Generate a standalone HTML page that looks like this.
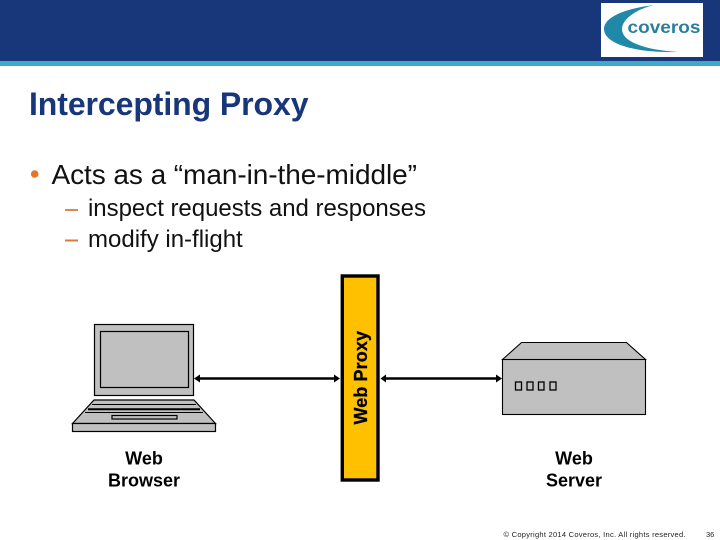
<!DOCTYPE html>
<html>
<head>
<meta charset="utf-8">
<style>
html,body{margin:0;padding:0;background:#fff}
svg{display:block}
text{font-family:"Liberation Sans",sans-serif}
</style>
</head>
<body>
<svg width="720" height="540" viewBox="0 0 720 540" xmlns="http://www.w3.org/2000/svg">
<rect width="720" height="540" fill="#fff"/>
<rect width="720" height="61" fill="#17377a"/>
<rect y="61" width="720" height="5" fill="#3fa9c6"/>

<rect x="601" y="3" width="102" height="54" fill="#fff"/>
<path d="M654 5 C622 9 604 18 604 29 C604 43 632 53 678 52 C648 50 622 43 622 29 C622 20 634 10 654 5 Z" fill="#2089a8"/>
<text x="627.500" y="33" font-size="17.500" font-weight="bold" fill="#2a7f9f" textLength="73" lengthAdjust="spacingAndGlyphs">coveros</text>

<text x="29" y="115" font-size="32" font-weight="bold" fill="#17377a" textLength="279.500" lengthAdjust="spacing">Intercepting Proxy</text>

<circle cx="34.700" cy="174" r="3.800" fill="#ea7428"/>
<text x="51.500" y="184" font-size="28" fill="#111" textLength="365.500" lengthAdjust="spacing">Acts as a “man-in-the-middle”</text>

<rect x="65" y="209" width="13" height="2" fill="#d98a50"/>
<text x="88" y="216" font-size="24" fill="#111" textLength="338" lengthAdjust="spacing">inspect requests and responses</text>
<rect x="65" y="239.500" width="13" height="2" fill="#d9793a"/>
<text x="88" y="247" font-size="24" fill="#111">modify in-flight</text>

<!-- Laptop -->
<g stroke="#000" stroke-width="1.200" fill="#c0c0c0">
<rect x="94.500" y="324.500" width="99" height="71"/>
<rect x="100.500" y="331.500" width="88" height="56"/>
<path d="M94 400 H194 L215.500 423.500 H72.500 Z"/>
<rect x="72.500" y="423.500" width="143" height="8"/>
<path d="M92 404.500 H196" fill="none" stroke-width="1"/>
<path d="M88 409.300 H200" fill="none" stroke-width="2"/>
<path d="M85 412.500 H203" fill="none" stroke-width="1"/>
<rect x="112" y="415.500" width="65" height="3.500"/>
</g>

<!-- Connectors -->
<g stroke="#000" stroke-width="2.600" fill="none">
<path d="M198 378.500 H337"/>
<path d="M384 378.500 H498"/>
</g>
<g fill="#000">
<path d="M194 378.500 L200 374.500 V382.500 Z"/>
<path d="M340 378.500 L334 374.500 V382.500 Z"/>
<path d="M380.500 378.500 L386 374.500 V382.500 Z"/>
<path d="M502 378.500 L496 374.500 V382.500 Z"/>
</g>

<!-- Proxy -->
<rect x="342.300" y="276" width="35.700" height="204" fill="#ffc000" stroke="#000" stroke-width="3.400"/>
<text transform="translate(367 424.500) rotate(-90)" font-size="18" font-weight="bold" fill="#000" stroke="#000" stroke-width="0.300" textLength="93.500" lengthAdjust="spacing">Web Proxy</text>

<!-- Server -->
<g stroke="#000" stroke-width="1.100" fill="#c0c0c0">
<path d="M502.500 359.500 L521.500 342.500 H626.500 L645.500 359.500 Z"/>
<rect x="502.500" y="359.500" width="143" height="55"/>
<rect x="515.500" y="382" width="6" height="8" fill="none" stroke-width="1.300"/>
<rect x="527" y="382" width="6" height="8" fill="none" stroke-width="1.300"/>
<rect x="538.500" y="382" width="5.500" height="8" fill="none" stroke-width="1.300"/>
<rect x="550" y="382" width="6" height="8" fill="none" stroke-width="1.300"/>
</g>

<g font-size="18" font-weight="bold" fill="#000" text-anchor="middle">
<text x="144" y="464.500">Web</text>
<text x="144" y="486.500">Browser</text>
<text x="574" y="464.500">Web</text>
<text x="574" y="486.500">Server</text>
</g>

<text x="503.500" y="537" font-size="7.500" fill="#222" textLength="182" lengthAdjust="spacing">© Copyright 2014 Coveros, Inc. All rights reserved.</text>
<text x="706" y="537" font-size="7.500" fill="#222">36</text>
</svg>
</body>
</html>
